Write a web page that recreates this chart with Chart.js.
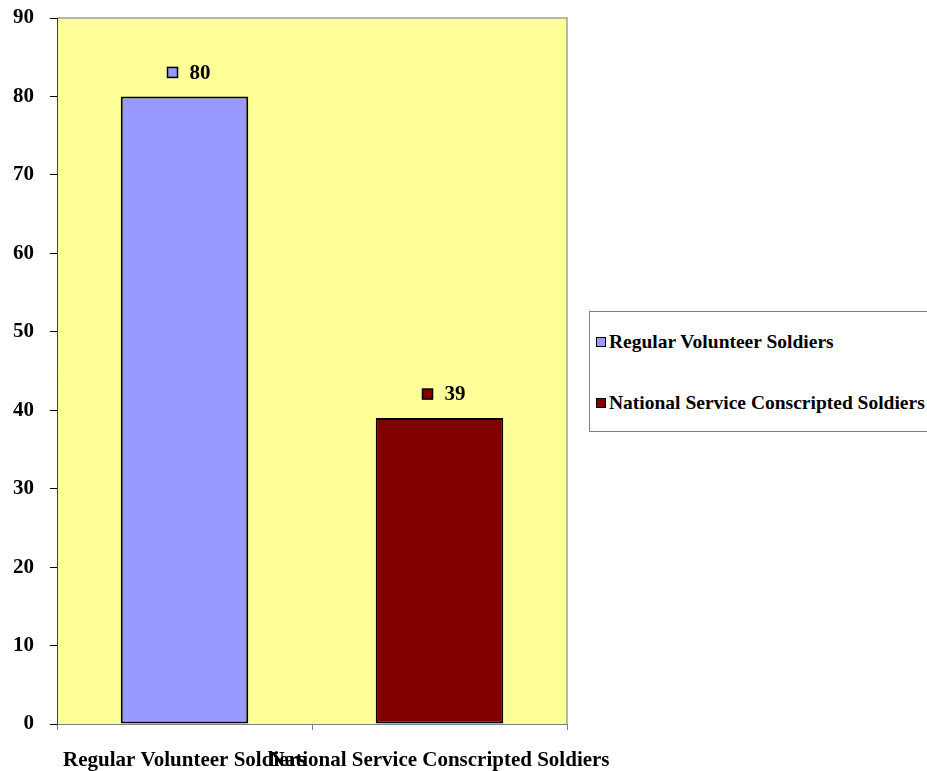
<!DOCTYPE html>
<html>
<head>
<meta charset="utf-8">
<script src="https://cdn.jsdelivr.net/npm/chart.js@4/dist/chart.umd.min.js"></script>
<style>
  body { margin: 0; background: #fff; }
  #wrap { position: relative; width: 927px; height: 771px; overflow: hidden; }
  #legend {
    position: absolute; left: 589px; top: 311px; width: 360px; height: 121px;
    border: 1px solid #808080; box-sizing: border-box; background: #fff;
    font-family: "Liberation Serif", "Times New Roman", serif; font-weight: bold; font-size: 19.5px;
  }
  .item { position: absolute; left: 6px; white-space: nowrap; line-height: 22px; }
  .key { display: inline-block; width: 8px; height: 8px; border: 1.5px solid #000; margin-right: 3px; vertical-align: 1px; }
</style>
</head>
<body>
<div id="wrap">
  <canvas id="myChart" width="927" height="771"></canvas>
  <div id="legend"></div>
</div>
<script>
const categories = ['Regular Volunteer Soldiers', 'National Service Conscripted Soldiers'];
const values = [80, 39];
const barColors = ['#9999FF', '#800000'];
const yTicks = [0, 10, 20, 30, 40, 50, 60, 70, 80, 90];

const serif = '"Liberation Serif", "Times New Roman", serif';

// legend box on the right
const legend = document.getElementById('legend');
categories.forEach((name, i) => {
    const el = document.createElement('div');
    el.className = 'item';
    el.style.top = (19 + i * 61) + 'px';
    el.innerHTML = '<span class="key" style="background:' + barColors[i] + '"></span>' + name;
    legend.appendChild(el);
});

// yellow plot area with grey frame
const plotArea = {
    id: 'plotArea',
    beforeDraw(chart) {
        const a = chart.chartArea;
        const c = chart.ctx;
        c.save();
        c.fillStyle = '#FFFF99';
        c.fillRect(a.left, a.top, a.right - a.left, a.bottom - a.top);
        c.strokeStyle = '#A0A0A0';
        c.lineWidth = 1.5;
        c.beginPath();
        c.moveTo(a.left, a.top);
        c.lineTo(a.right, a.top);
        c.lineTo(a.right, a.bottom);
        c.stroke();
        c.restore();
    }
};

// value labels with legend key above each bar
const valueLabels = {
    id: 'valueLabels',
    afterDatasetsDraw(chart) {
        const c = chart.ctx;
        const meta = chart.getDatasetMeta(0);
        c.save();
        c.font = 'bold 21px ' + serif;
        c.textBaseline = 'middle';
        meta.data.forEach((bar, i) => {
            const y = bar.y - 24;
            const x = bar.x - 17;
            c.fillStyle = barColors[i];
            c.fillRect(x, y - 5, 10, 10);
            c.strokeStyle = '#000';
            c.lineWidth = 1.5;
            c.strokeRect(x, y - 5, 10, 10);
            c.fillStyle = '#000';
            c.fillText(String(values[i]), x + 22, y + 1);
        });
        c.restore();
    }
};

new Chart(document.getElementById('myChart').getContext('2d'), {
    type: 'bar',
    data: {
        labels: categories,
        datasets: [{
            data: values,
            backgroundColor: barColors,
            borderColor: '#000',
            borderWidth: 2,
            borderSkipped: false,
            categoryPercentage: 1,
            barPercentage: 0.5
        }]
    },
    options: {
        responsive: false,
        animation: false,
        layout: { padding: { top: 18, right: 360, left: 0, bottom: 0 } },
        plugins: { legend: { display: false }, tooltip: { enabled: false } },
        scales: {
            x: {
                offset: true,
                grid: { drawOnChartArea: false, offset: true, tickLength: 6, color: '#808080' },
                border: { color: '#808080', width: 1 },
                ticks: {
                    autoSkip: false, maxRotation: 0, padding: 18,
                    color: '#000', font: { family: serif, size: 21, weight: 'bold' }
                },
                afterFit(scale) { scale.height = 47; }
            },
            y: {
                min: 0, max: 90,
                afterBuildTicks(scale) { scale.ticks = yTicks.map(v => ({ value: v })); },
                grid: { drawOnChartArea: false, tickLength: 7, color: '#000' },
                border: { color: '#404040', width: 1 },
                ticks: {
                    padding: 16, color: '#000',
                    font: { family: serif, size: 21, weight: 'bold' }
                },
                afterFit(scale) {
                    scale.width = 57;
                    scale.paddingTop = 0;
                    scale.paddingBottom = 0;
                }
            }
        }
    },
    plugins: [plotArea, valueLabels]
});
</script>
</body>
</html>
